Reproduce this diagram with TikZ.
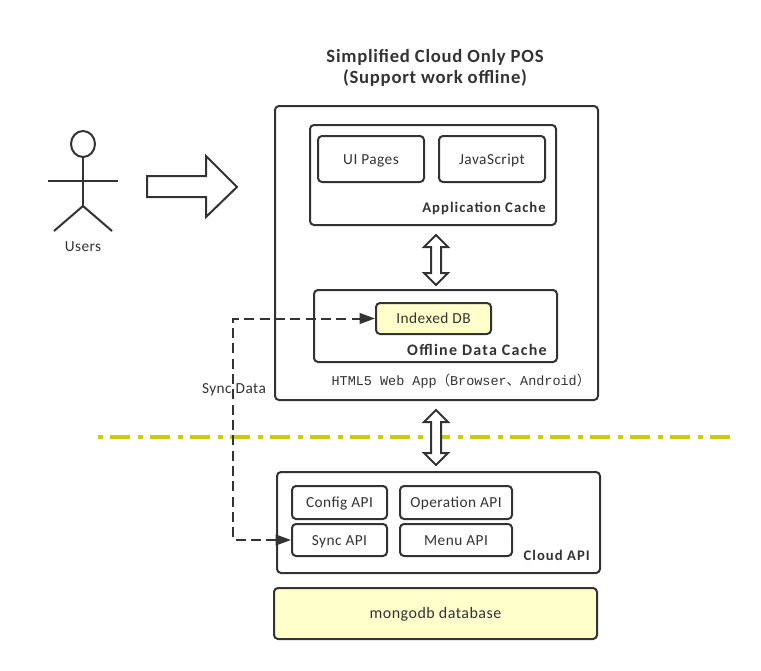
\documentclass[tikz,border=0pt]{standalone}
\usepackage{fontspec}
\setmainfont{Carlito}
\newfontfamily\monofont{Liberation Mono}
\newfontfamily\cjkfont{Noto Sans CJK SC}
\usetikzlibrary{arrows.meta,shapes.geometric}
\definecolor{ink}{HTML}{333333}
\definecolor{paleyellow}{HTML}{FFFFCC}
\definecolor{divider}{HTML}{CCCC00}
\tikzset{
  x=0.75pt, y=-0.75pt,
  wh/.style 2 args={minimum width=#1*0.75pt, minimum height=#2*0.75pt},
  box/.style={draw=ink, line width=1.5pt, rounded corners=3pt, inner sep=0pt, text=ink, text height=8pt, text depth=0pt, font=\fontsize{11.5pt}{12pt}\selectfont\addfontfeatures{LetterSpace=3}},
  hilite/.style={box, fill=paleyellow},
  caption/.style={inner sep=0pt, text=ink, font=\fontsize{11.5pt}{12pt}\selectfont\addfontfeatures{LetterSpace=3}},
  boldcap/.style={caption, font=\fontsize{11pt}{12pt}\selectfont\bfseries\addfontfeatures{LetterSpace=7}},
  boldwide/.style={caption, font=\fontsize{12pt}{12pt}\selectfont\bfseries\addfontfeatures{LetterSpace=8}},
  titlecap/.style={caption, align=center, font=\fontsize{14pt}{15.75pt}\selectfont\bfseries\addfontfeatures{LetterSpace=4}},
  outline/.style={draw=ink, line width=1.5pt, line join=miter},
  syncline/.style={draw=ink, line width=1.5pt, dash pattern=on 7.5pt off 4pt},
}
\begin{document}
\begin{tikzpicture}
\useasboundingbox (0,0) rectangle (761,671);
\fill[white] (0,0) rectangle (761,671);

% title
\node[titlecap] (title) at (435,68) {Simplified Cloud Only POS\\(Support work offline)};

% web app frames
\node[box, wh={323}{294}] (web) at (436.5,253) {};
\node[box, wh={246}{100}] (appcache) at (433,175) {};
\node[box, wh={106}{46}] (ui) at (371,159) {UI Pages};
\node[box, wh={106}{46}] (js) at (492,159) {JavaScript};
\node[boldcap, anchor=east] (applabel) at (546,208) {Application Cache};
\node[box, wh={243}{72}] (offline) at (435.5,326) {};
\node[hilite, wh={115}{31}] (idx) at (433.5,318.5) {Indexed DB};
\node[boldwide, anchor=east] (offlabel) at (547,350) {Offline Data Cache};
\node[caption, anchor=east, font=\fontsize{10.1pt}{12pt}\monofont] (htmllabel) at (590.5,381) {HTML5 Web App{\cjkfont （}Browser{\cjkfont 、}Android{\cjkfont ）}};

% divider
\coordinate (divl) at (98,437);
\coordinate (divr) at (730,437);
\draw[divider, line width=3pt, dash pattern=on 15pt off 6pt on 3.5pt off 5.5pt, dash phase=21pt] (divl) -- (divr);

% cloud API
\node[box, wh={323}{101}] (cloud) at (438.5,522.5) {};
\node[box, wh={95}{33}] (config) at (339.5,502.5) {Config API};
\node[box, wh={112}{33}] (oper) at (456,502.5) {Operation API};
\node[box, wh={95}{32}] (sync) at (339.5,540) {Sync API};
\node[box, wh={112}{32}] (menu) at (456,540) {Menu API};
\node[boldcap, anchor=east] (cloudlabel) at (590,555) {Cloud API};
\node[hilite, wh={323}{51}, font=\fontsize{12pt}{14pt}\selectfont\addfontfeatures{LetterSpace=3}] (mongo) at (435.5,613.5) {mongodb database};

% actor
\node[draw=ink, line width=1.5pt, ellipse, minimum width=18pt, minimum height=19.5pt, inner sep=0pt] (head) at (83,144) {};
\coordinate (hip) at (83,206);
\coordinate (lefthand) at (48,181);
\coordinate (righthand) at (118,181);
\coordinate (leftfoot) at (54,231);
\coordinate (rightfoot) at (112,231);
\draw[outline] (head.south) -- (hip);
\draw[outline] (lefthand) -- (righthand);
\draw[outline] (leftfoot) -- (hip) -- (rightfoot);
\node[caption] (users) at (83,247) {Users};

% big hollow arrow
\draw[outline, fill=white] (147,176) -- (206,176) -- (206,156) -- (237,187) -- (206,217) -- (206,197) -- (147,197) -- cycle;

% double arrows
\coordinate (a1) at (436,235);
\coordinate (a2) at (436,285);
\draw[outline, fill=white] (a1) -- ++(12,12) -- ++(-7,0) -- (441,273) -- ++(7,0) -- (a2) -- ++(-12,-12) -- ++(7,0) -- (431,247) -- ++(-7,0) -- cycle;
\coordinate (b1) at (436,410);
\coordinate (b2) at (436,465);
\draw[outline, fill=white] (b1) -- ++(12,12) -- ++(-7,0) -- (441,453) -- ++(7,0) -- (b2) -- ++(-12,-12) -- ++(7,0) -- (431,422) -- ++(-7,0) -- cycle;

% sync connector
\coordinate (lane) at (233,430);
\draw[syncline, {Triangle[length=11.5pt,width=8pt]}-{Triangle[length=11.5pt,width=8pt]}] (sync.west) -- (sync.west -| lane) -- (idx.west -| lane) -- (idx.west);
\node[caption] (synclabel) at (234,390) {Sync Data};
\end{tikzpicture}
\end{document}
